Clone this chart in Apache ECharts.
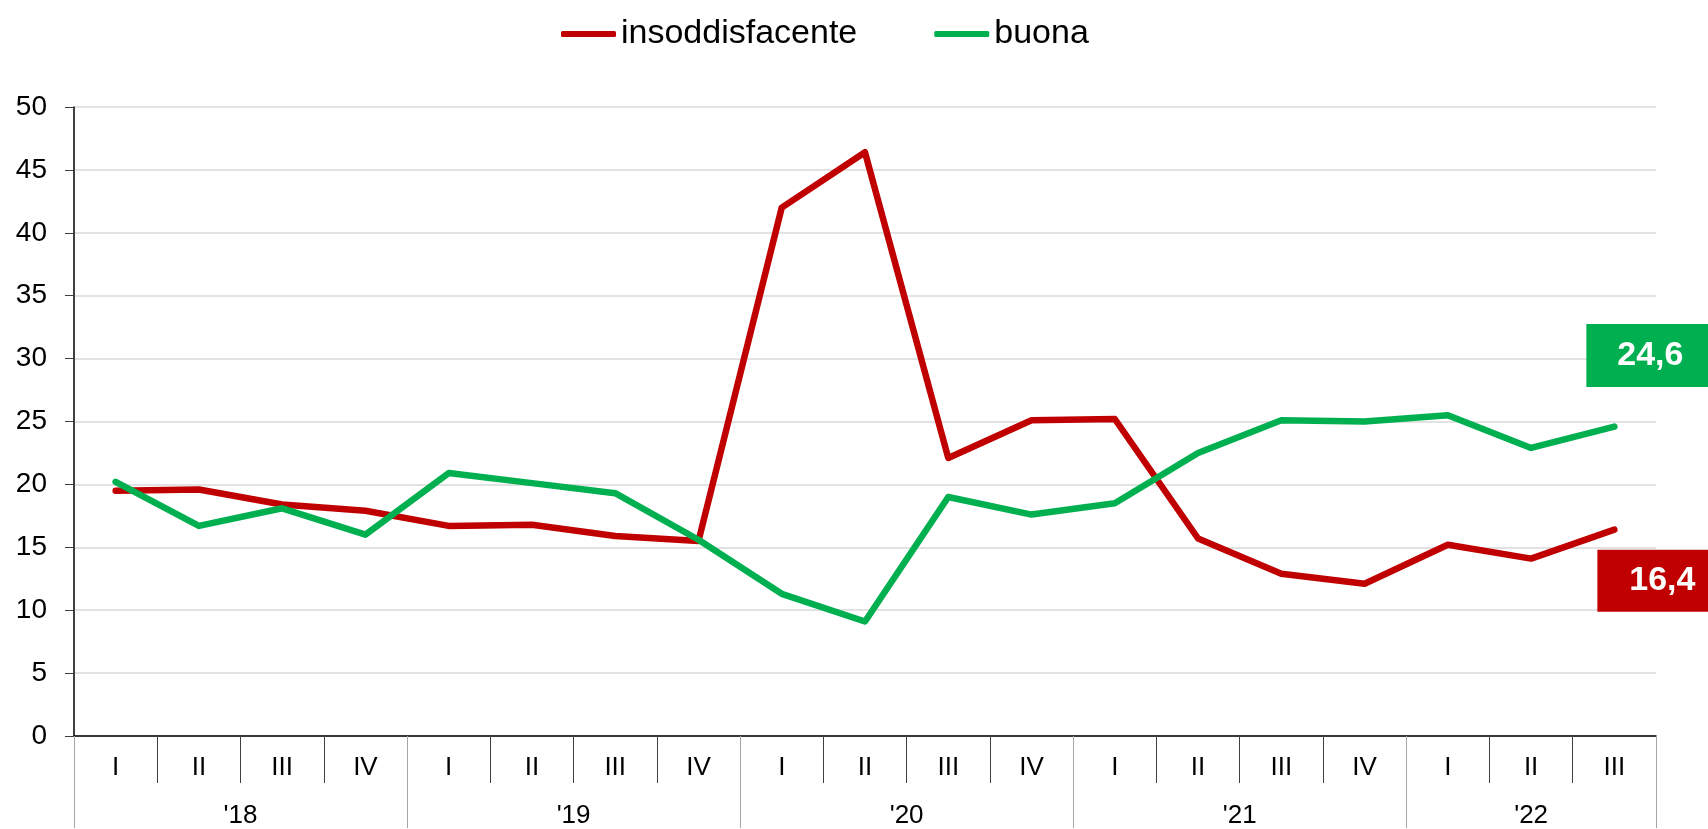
<!DOCTYPE html>
<html>
<head>
<meta charset="utf-8">
<script src="https://cdn.jsdelivr.net/npm/echarts@6/dist/echarts.min.js"></script>
<style>
  html, body { margin: 0; padding: 0; background: #ffffff; }
  #chart { width: 1708px; height: 829px; }
</style>
</head>
<body>
<div id="chart"></div>
<script>
// quarters on the axis, grouped by year
var quarterLabels = ['I', 'II', 'III', 'IV', 'I', 'II', 'III', 'IV', 'I', 'II', 'III', 'IV', 'I', 'II', 'III', 'IV', 'I', 'II', 'III'];
var yearLabels = ["'18", "'19", "'20", "'21", "'22"];
var quartersPerYear = [4, 4, 4, 4, 3];

// valori
var insoddisfacente = [19.5, 19.6, 18.4, 17.9, 16.7, 16.8, 15.9, 15.5, 42.0, 46.4, 22.1, 25.1, 25.2, 15.7, 12.9, 12.1, 15.2, 14.1, 16.4];
var buona = [20.2, 16.7, 18.1, 16.0, 20.9, 20.1, 19.3, 15.6, 11.3, 9.1, 19.0, 17.6, 18.5, 22.5, 25.1, 25.0, 25.5, 22.9, 24.6];

var RED = '#C00000';
var GREEN = '#00B050';
var FONT = '"Liberation Sans", Arial, sans-serif';

// year boundaries and centres on a 0..19 scale
var yearBounds = [0];
var yearCenters = [];
quartersPerYear.forEach(function (n) {
  var start = yearBounds[yearBounds.length - 1];
  yearCenters.push(start + n / 2);
  yearBounds.push(start + n);
});

function lastOf(arr) { return arr[arr.length - 1]; }

// box with the last value, next to the end of the line
function endBox(arr, color, width, height, offset) {
  return {
    symbol: 'rect',
    symbolSize: [width, height],
    symbolOffset: offset,
    itemStyle: { color: color },
    label: {
      show: true,
      position: 'inside',
      color: '#ffffff',
      fontFamily: FONT,
      fontWeight: 'bold',
      fontSize: 34,
      formatter: function (p) { return String(p.value).replace('.', ','); }
    },
    data: [{ coord: [arr.length - 1, lastOf(arr)], value: lastOf(arr).toFixed(1) }]
  };
}

var chart = echarts.init(document.getElementById('chart'));

var option = {
  animation: false,
  backgroundColor: '#ffffff',
  textStyle: { fontFamily: FONT },
  legend: {
    left: 556,
    top: 12,
    itemWidth: 55,
    itemHeight: 6,
    itemGap: 77,
    icon: 'roundRect',
    textStyle: { fontSize: 34, color: '#000000', fontFamily: FONT },
    data: ['insoddisfacente', 'buona']
  },
  grid: { left: 74, right: 52, top: 107, bottom: 92 },
  xAxis: [
    {
      type: 'category',
      data: quarterLabels,
      boundaryGap: true,
      axisLine: { lineStyle: { color: '#000000', width: 1.5 } },
      axisTick: { show: true, interval: 0, length: 47, lineStyle: { color: '#404040' } },
      axisLabel: { interval: 0, margin: 19, fontSize: 26, color: '#000000', fontFamily: FONT },
      splitLine: { show: false }
    },
    {
      type: 'value',
      position: 'bottom',
      min: 0,
      max: quarterLabels.length,
      axisLine: { show: false },
      splitLine: { show: false },
      axisTick: { show: true, customValues: yearBounds, length: 92, lineStyle: { color: '#a6a6a6' } },
      axisLabel: {
        customValues: yearCenters,
        margin: 67,
        fontSize: 26,
        color: '#000000',
        fontFamily: FONT,
        formatter: function (v) { return yearLabels[yearCenters.indexOf(v)]; }
      }
    }
  ],
  yAxis: {
    type: 'value',
    min: 0,
    max: 50,
    interval: 5,
    axisLine: { show: true, lineStyle: { color: '#000000', width: 1.5 } },
    axisTick: { show: true, length: 9, lineStyle: { color: '#404040' } },
    axisLabel: { margin: 27, fontSize: 28, color: '#000000', fontFamily: FONT },
    splitLine: { lineStyle: { color: '#d9d9d9', width: 1.5 } }
  },
  series: [
    {
      name: 'insoddisfacente',
      type: 'line',
      data: insoddisfacente,
      symbol: 'none',
      color: RED,
      lineStyle: { width: 6.5, color: RED, cap: 'round', join: 'round' },
      markPoint: endBox(insoddisfacente, RED, 130, 62, [48, 51])
    },
    {
      name: 'buona',
      type: 'line',
      data: buona,
      symbol: 'none',
      color: GREEN,
      lineStyle: { width: 6.5, color: GREEN, cap: 'round', join: 'round' },
      markPoint: endBox(buona, GREEN, 128, 63, [36, -71])
    }
  ]
};

chart.setOption(option);
</script>
</body>
</html>
